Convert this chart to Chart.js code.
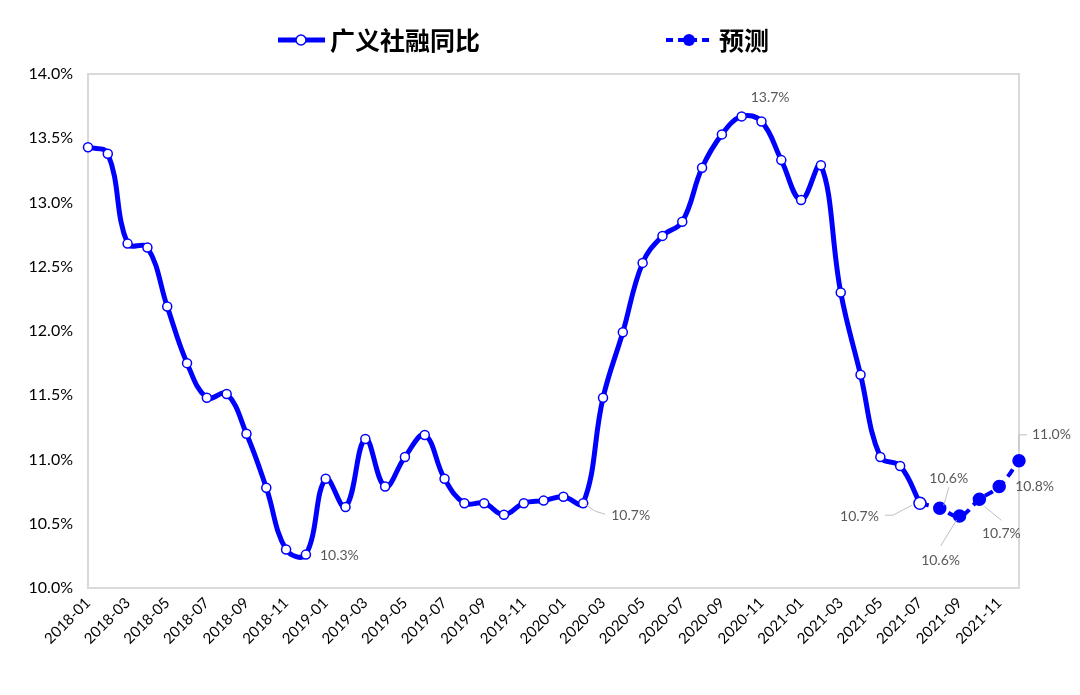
<!DOCTYPE html>
<html><head><meta charset="utf-8">
<script src="https://cdn.jsdelivr.net/npm/chart.js@4.4.0/dist/chart.umd.min.js"></script>
<style>html,body{margin:0;padding:0;background:#fff}#wrap{width:1080px;height:695px;position:relative}</style>
</head><body><div id="wrap"><canvas id="c" width="1080" height="695"></canvas></div>
<script>
const months = ['2018-01','2018-02','2018-03','2018-04','2018-05','2018-06','2018-07','2018-08','2018-09','2018-10','2018-11','2018-12',
  '2019-01','2019-02','2019-03','2019-04','2019-05','2019-06','2019-07','2019-08','2019-09','2019-10','2019-11','2019-12',
  '2020-01','2020-02','2020-03','2020-04','2020-05','2020-06','2020-07','2020-08','2020-09','2020-10','2020-11','2020-12',
  '2021-01','2021-02','2021-03','2021-04','2021-05','2021-06','2021-07','2021-08','2021-09','2021-10','2021-11','2021-12'];
const seriesName = '广义社融同比';
const forecastName = '预测';
const actualValues = [13.43,13.38,12.68,12.65,12.19,11.75,11.48,11.51,11.20,10.78,10.30,10.26,
  10.85,10.63,11.16,10.79,11.02,11.19,10.85,10.66,10.66,10.57,10.66,10.68,
  10.71,10.66,11.48,11.99,12.53,12.74,12.85,13.27,13.53,13.67,13.63,13.33,
  13.02,13.29,12.30,11.66,11.02,10.95,10.66,null,null,null,null,null];
const forecastValues = [null,null,null,null,null,null,null,null,null,null,null,null,
  null,null,null,null,null,null,null,null,null,null,null,null,
  null,null,null,null,null,null,null,null,null,null,null,null,
  null,null,null,null,null,null,10.66,10.62,10.56,10.69,10.79,10.99];
const yMin = 10.0, yMax = 14.0, yStep = 0.5;

const BLUE = '#0000FF';
const NUMFONT = 'Lato, "DejaVu Sans", sans-serif';
const CJKFONT = '"Noto Sans CJK SC", sans-serif';

// label placement: [datasetIndex, dataIndex, dx, dy, align, leaderPoints(relative)]
const labelSpecs = [
  [0, 11, 14, 1, 'left', null],
  [0, 25, 28, 12, 'left', [[2,1],[12,8],[22,11]]],
  [0, 33, 9, -19, 'left', null],
  [1, 42, -41, 13, 'right', [[-35,12],[-27,12],[-8,2]]],
  [1, 43, 9, -30, 'center', [[9,-21],[4,-3]]],
  [1, 44, -19, 44, 'center', [[-19,30],[-3,4]]],
  [1, 45, 22, 34, 'center', [[5,7],[22,21]]],
  [1, 46, 16, 0, 'left', null],
  [1, 47, 13, -26, 'left', [[0,-10],[0,-26],[8,-26]]]
];

const frame = {
  id: 'frame',
  beforeDatasetsDraw(chart) {
    const {ctx, chartArea: a} = chart;
    ctx.save();
    ctx.strokeStyle = '#d9d9d9';
    ctx.lineWidth = 2;
    ctx.strokeRect(a.left, a.top, a.right - a.left, a.bottom - a.top);
    ctx.restore();
  }
};

const dataLabels = {
  id: 'dataLabels',
  afterDatasetsDraw(chart) {
    const ctx = chart.ctx;
    ctx.save();
    ctx.font = '14px ' + NUMFONT;
    ctx.fillStyle = '#595959';
    ctx.textBaseline = 'middle';
    labelSpecs.forEach(([d, i, dx, dy, align, leader]) => {
      const el = chart.getDatasetMeta(d).data[i];
      const v = chart.data.datasets[d].data[i];
      const px = el.x, py = el.y;
      if (leader) {
        ctx.strokeStyle = '#bfbfbf';
        ctx.lineWidth = 1;
        ctx.beginPath();
        leader.forEach(([lx, ly], k) => { if (k === 0) ctx.moveTo(px + lx, py + ly); else ctx.lineTo(px + lx, py + ly); });
        ctx.stroke();
      }
      ctx.textAlign = align;
      ctx.fillText(v.toFixed(1) + '%', px + dx, py + dy);
    });
    ctx.restore();
  }
};

const legendPlugin = {
  id: 'customLegend',
  afterDraw(chart) {
    const ctx = chart.ctx;
    const y = 40;
    ctx.save();
    // item 1
    ctx.strokeStyle = BLUE; ctx.lineWidth = 5; ctx.setLineDash([]);
    ctx.beginPath(); ctx.moveTo(278, y); ctx.lineTo(325, y); ctx.stroke();
    ctx.beginPath(); ctx.arc(301, y, 5, 0, Math.PI * 2);
    ctx.fillStyle = '#fff'; ctx.fill(); ctx.lineWidth = 1.5; ctx.stroke();
    // item 2
    ctx.lineWidth = 4; ctx.setLineDash([7, 5]);
    ctx.beginPath(); ctx.moveTo(666, y); ctx.lineTo(714, y); ctx.stroke();
    ctx.setLineDash([]);
    ctx.beginPath(); ctx.arc(689, y, 6, 0, Math.PI * 2); ctx.fillStyle = BLUE; ctx.fill();
    // text
    ctx.fillStyle = '#000';
    ctx.font = 'bold 25px ' + CJKFONT;
    ctx.textBaseline = 'middle';
    ctx.textAlign = 'left';
    ctx.fillText(chart.data.datasets[0].label, 330, y);
    ctx.fillText(chart.data.datasets[1].label, 719, y);
    ctx.restore();
  }
};

new Chart(document.getElementById('c'), {
  type: 'line',
  data: {
    labels: months,
    datasets: [
      {
        label: seriesName,
        data: actualValues,
        borderColor: BLUE,
        borderWidth: 5,
        tension: 0.4,
        pointRadius: 4.5,
        pointBorderWidth: 1.5,
        pointBackgroundColor: '#fff',
        pointBorderColor: BLUE,
        clip: false,
        order: 1
      },
      {
        label: forecastName,
        data: forecastValues,
        borderColor: BLUE,
        borderWidth: 4,
        borderDash: [9, 6],
        tension: 0.4,
        pointRadius: 6,
        pointBorderWidth: 1.5,
        pointBackgroundColor: (c) => {
          const first = forecastValues.findIndex(v => v !== null);
          return c.dataIndex === first ? '#fff' : BLUE;
        },
        pointBorderColor: BLUE,
        clip: false,
        order: 0
      }
    ]
  },
  options: {
    responsive: false,
    devicePixelRatio: 1,
    animation: false,
    layout: { padding: { top: 74, right: 61, bottom: 0, left: 0 } },
    plugins: {
      legend: { display: false },
      tooltip: { enabled: false }
    },
    scales: {
      x: {
        type: 'category',
        grid: { display: false, drawTicks: false },
        border: { display: false },
        ticks: {
          autoSkip: false,
          maxRotation: 45,
          minRotation: 45,
          padding: 6,
          color: '#000',
          font: { size: 15, family: NUMFONT },
          callback: (v, i) => (i % 2 === 0 ? months[i] : '')
        },
        afterFit: (s) => { s.height = 107; }
      },
      y: {
        min: yMin,
        max: yMax,
        grid: { display: false, drawTicks: false },
        border: { display: false },
        ticks: {
          stepSize: yStep,
          padding: 15,
          color: '#000',
          font: { size: 16, family: NUMFONT },
          callback: (v) => v.toFixed(1) + '%'
        },
        afterFit: (s) => { s.width = 88; }
      }
    }
  },
  plugins: [frame, dataLabels, legendPlugin]
});
</script>
</body></html>
